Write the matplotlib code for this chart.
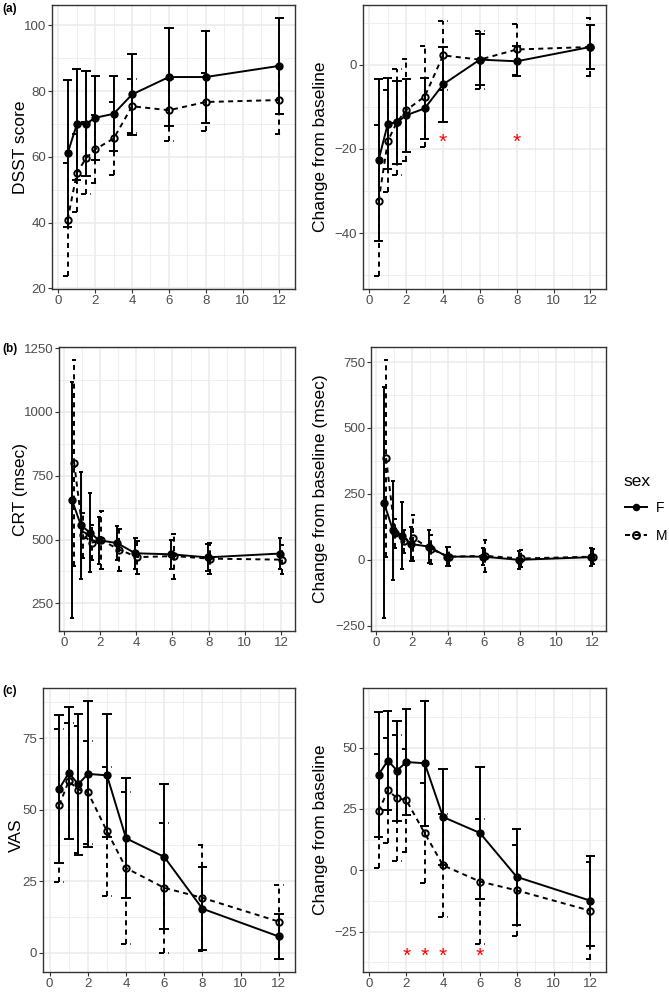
import matplotlib
matplotlib.use('Agg')
import matplotlib.pyplot as plt
from matplotlib.lines import Line2D
from matplotlib.ticker import MultipleLocator

plt.rcParams['font.family'] = ['Liberation Sans', 'DejaVu Sans']

# time points (x axis)
times = [0.5, 1, 1.5, 2, 3, 4, 6, 8, 12]

# (a) DSST score, mean and SD per sex
dsst_f = [61.1, 69.9, 70.1, 71.9, 73.1, 79.0, 84.3, 84.3, 87.7]
dsst_f_sd = [22.4, 16.9, 16.0, 12.8, 11.4, 12.3, 15.0, 14.0, 14.6]
dsst_m = [40.9, 55.1, 59.6, 62.3, 65.6, 75.4, 74.2, 76.7, 77.3]
dsst_m_sd = [17.2, 11.8, 11.0, 10.3, 11.0, 8.2, 9.4, 8.9, 10.3]

dsst_chg_f = [-22.6, -14.0, -13.7, -12.0, -10.4, -4.7, 1.2, 0.8, 4.2]
dsst_chg_f_sd = [19.3, 10.8, 9.8, 8.7, 7.3, 9.0, 6.0, 3.6, 5.3]
dsst_chg_m = [-32.3, -18.1, -13.6, -10.8, -7.6, 2.2, 1.2, 3.6, 4.2]
dsst_chg_m_sd = [17.9, 12.1, 12.6, 12.1, 12.0, 8.1, 6.9, 6.1, 6.9]
dsst_sig = [4, 8]

# (b) CRT (msec)
crt_f = [654, 555, 527, 497, 486, 446, 442, 430, 445]
crt_f_sd = [462, 210, 155, 92, 66, 61, 58, 52, 60]
crt_m = [800, 516, 488, 498, 460, 431, 435, 425, 421]
crt_m_sd = [404, 88, 70, 115, 82, 65, 88, 62, 57]

crt_chg_f = [217, 112, 92, 60, 50, 12, 12, 0, 10]
crt_chg_f_sd = [438, 188, 126, 63, 62, 36, 32, 33, 35]
crt_chg_m = [385, 100, 70, 83, 40, 12, 15, 5, 12]
crt_chg_m_sd = [373, 55, 44, 87, 55, 37, 61, 34, 28]

# (c) VAS
vas_f = [57.3, 62.8, 58.9, 62.5, 62.0, 40.0, 33.5, 15.4, 5.7]
vas_f_sd = [25.9, 23.0, 24.7, 25.5, 21.4, 21.0, 25.3, 14.5, 7.9]
vas_m = [51.6, 60.0, 57.0, 56.1, 42.5, 29.6, 22.7, 19.2, 10.9]
vas_m_sd = [26.7, 20.4, 22.3, 18.0, 22.5, 26.6, 22.7, 18.6, 12.9]

vas_chg_f = [39.0, 44.7, 40.6, 44.1, 43.6, 21.7, 15.2, -2.7, -12.4]
vas_chg_f_sd = [25.4, 20.2, 20.4, 21.4, 25.4, 19.7, 26.8, 19.5, 18.4]
vas_chg_m = [24.1, 32.5, 29.4, 28.6, 15.1, 2.0, -4.6, -8.2, -16.5]
vas_chg_m_sd = [23.2, 21.5, 25.8, 21.0, 20.4, 21.0, 25.3, 18.6, 19.7]
vas_sig = [2, 3, 4, 6]

W, H = 669, 992
fig = plt.figure(figsize=(W / 100, H / 100), dpi=100)

DASH = (0, (2.6, 2.2))
LW = 1.4
GRID = '#EBEBEB'
DARK = '#333333'
TXT = '#4D4D4D'


def make_ax(left, top, right, bottom):
    return fig.add_axes([left / W, 1 - bottom / H, (right - left) / W, (bottom - top) / H])


def draw_panel(ax, f, f_sd, m, m_sd, ylabel, label_x, major, minor, cap=0.5, dodge=0.0,
               sig=None, sig_y=None, label_shift=0):
    xf = [t - dodge for t in times]
    xm = [t + dodge for t in times]
    lo_all, hi_all = [], []
    for x, mu, sd, ls, face in [(xf, f, f_sd, '-', 'black'), (xm, m, m_sd, DASH, 'none')]:
        lo = [a - b for a, b in zip(mu, sd)]
        hi = [a + b for a, b in zip(mu, sd)]
        lo_all += lo
        hi_all += hi
        ax.vlines(x, lo, hi, colors='black', linestyles=ls, lw=LW, zorder=3)
        xl = [v - cap / 2 for v in x]
        xr = [v + cap / 2 for v in x]
        ax.hlines(lo, xl, xr, colors='black', linestyles=ls, lw=LW, zorder=3)
        ax.hlines(hi, xl, xr, colors='black', linestyles=ls, lw=LW, zorder=3)
        ax.plot(x, mu, color='black', linestyle=ls, lw=LW, zorder=4)
        ax.plot(x, mu, linestyle='none', marker='o', ms=4.6, mfc=face, mec='black',
                mew=1.4, zorder=5)
    if sig is not None:
        for s in sig:
            ax.text(s, sig_y, '*', color='red', fontsize=15, ha='center', va='center',
                    zorder=6)

    xmin = min(times) - dodge - cap / 2
    xmax = max(times) + dodge + cap / 2
    ex = (xmax - xmin) * 0.05
    ax.set_xlim(xmin - ex, xmax + ex)
    ymin, ymax = min(lo_all), max(hi_all)
    ey = (ymax - ymin) * 0.05
    ax.set_ylim(ymin - ey, ymax + ey)

    ax.xaxis.set_major_locator(MultipleLocator(2))
    ax.xaxis.set_minor_locator(MultipleLocator(1))
    ax.yaxis.set_major_locator(MultipleLocator(major))
    ax.yaxis.set_minor_locator(MultipleLocator(minor))
    ax.grid(which='major', color=GRID, lw=1.1, zorder=0)
    ax.grid(which='minor', color=GRID, lw=0.55, zorder=0)
    ax.set_axisbelow(True)
    ax.tick_params(which='major', length=3.0, width=0.8, color=DARK, labelcolor=TXT,
                   labelsize=9.5, pad=1.2)
    ax.tick_params(which='minor', length=0)
    for sp in ax.spines.values():
        sp.set_color(DARK)
        sp.set_linewidth(1.0)
    # y titles sit at a fixed distance from the figure edge, like the original
    ax.set_ylabel(ylabel, fontsize=12.5, color='black', va='baseline')
    pos = ax.get_position()
    ax.yaxis.set_label_coords(label_x / W, pos.y0 + pos.height / 2 - label_shift / H,
                              transform=fig.transFigure)


ax1 = make_ax(52, 5, 295, 289)
draw_panel(ax1, dsst_f, dsst_f_sd, dsst_m, dsst_m_sd, 'DSST score', 25, 20, 10)
ax2 = make_ax(363, 5, 606, 289)
draw_panel(ax2, dsst_chg_f, dsst_chg_f_sd, dsst_chg_m, dsst_chg_m_sd,
           'Change from baseline', 325, 20, 10, sig=dsst_sig, sig_y=-18.5)

ax3 = make_ax(59, 347, 295, 631)
draw_panel(ax3, crt_f, crt_f_sd, crt_m, crt_m_sd, 'CRT (msec)', 25, 250, 125,
           cap=0.25, dodge=0.06)
ax4 = make_ax(371, 347, 606, 631)
draw_panel(ax4, crt_chg_f, crt_chg_f_sd, crt_chg_m, crt_chg_m_sd,
           'Change from baseline (msec)', 325, 250, 125, cap=0.25, dodge=0.06)

ax5 = make_ax(43, 688, 295, 972)
draw_panel(ax5, vas_f, vas_f_sd, vas_m, vas_m_sd, 'VAS', 21, 25, 12.5, label_shift=5)
ax6 = make_ax(363, 688, 606, 972)
draw_panel(ax6, vas_chg_f, vas_chg_f_sd, vas_chg_m, vas_chg_m_sd,
           'Change from baseline', 325, 25, 12.5, sig=vas_sig, sig_y=-35.0)

# panel tags
for tag, y in [('(a)', 9), ('(b)', 349), ('(c)', 691)]:
    fig.text(2 / W, 1 - y / H, tag, fontsize=8.5, fontweight='bold', va='center', ha='left')

# legend
fig.text(623 / W, 1 - 481 / H, 'sex', fontsize=12.5, va='center', ha='left')
handles = [Line2D([], [], color='black', lw=LW, marker='o', ms=4, mew=1.4, mfc='black'),
           Line2D([], [], color='black', lw=LW, linestyle=DASH, marker='o', ms=5, mew=1.4,
                  mfc='none')]
fig.legend(handles, ['F', 'M'], loc='upper left', bbox_to_anchor=(625 / W, 1 - 501 / H),
           frameon=False, fontsize=10, handlelength=1.6, handletextpad=0.6,
           labelspacing=1.0, borderpad=0, borderaxespad=0)

fig.savefig('out.png', dpi=100)
